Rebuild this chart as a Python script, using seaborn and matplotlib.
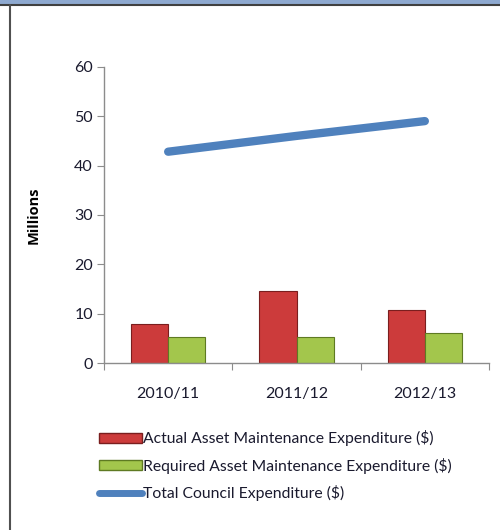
import pandas as pd
import matplotlib
matplotlib.use("Agg")
import matplotlib.pyplot as plt
import seaborn as sns
from matplotlib.patches import Patch, Rectangle
from matplotlib.lines import Line2D

years = ["2010/11", "2011/12", "2012/13"]
actual = [7.9, 14.5, 10.7]
required = [5.3, 5.3, 6.0]
total = [42.8, 46.0, 49.0]

series_names = ["Actual Asset Maintenance Expenditure ($)",
                "Required Asset Maintenance Expenditure ($)"]
line_name = "Total Council Expenditure ($)"

df = pd.DataFrame({
    "year": years * 2,
    "value": actual + required,
    "series": [series_names[0]] * 3 + [series_names[1]] * 3,
})

sns.set_style("white")
plt.rcParams["font.family"] = ["Lato", "DejaVu Sans"]
plt.rcParams["text.color"] = "#1A1A2E"
plt.rcParams["xtick.labelcolor"] = "#1A1A2E"
plt.rcParams["ytick.labelcolor"] = "#1A1A2E"

fig = plt.figure(figsize=(5, 5.3), dpi=100)
ax = fig.add_axes([0.208, 0.315, 0.77, 0.559])

red = "#CC3B3B"
green = "#A3C64C"
blue = "#4F81BD"

sns.barplot(data=df, x="year", y="value", hue="series", order=years,
            palette=[red, green], width=0.58, ax=ax, legend=False,
            saturation=1)
for i, bar in enumerate(ax.patches):
    bar.set_edgecolor("#7A1E1E" if i < 3 else "#5E7A22")
    bar.set_linewidth(0.8)

sns.pointplot(x=years, y=total, color=blue, markers="", linewidth=6,
              solid_capstyle="round", ax=ax, errorbar=None)

ax.set_ylim(0, 60)
ax.set_xlim(-0.5, 2.5)
ax.set_yticks(range(0, 61, 10))
ax.set_xticks([-0.5, 0.5, 1.5, 2.5])
ax.set_xticklabels([])
ax.set_xticks([0, 1, 2], minor=True)
ax.set_xticklabels(years, minor=True)
ax.tick_params(axis="x", which="minor", length=0, pad=17, labelsize=11.5)
ax.tick_params(axis="x", which="major", length=5, color="#8C8C8C", direction="out")
ax.tick_params(axis="y", length=5, color="#8C8C8C", direction="out",
               labelsize=11.5, pad=3)
ax.tick_params(bottom=True, left=True)
ax.set_xlabel("")
ax.set_ylabel("Millions", fontsize=10.5, fontweight="bold", labelpad=24,
              color="black", family=["Open Sans", "DejaVu Sans"])
for s in ["top", "right"]:
    ax.spines[s].set_visible(False)
for s in ["left", "bottom"]:
    ax.spines[s].set_color("#8C8C8C")
    ax.spines[s].set_linewidth(1)

handles = [
    Patch(facecolor=red, edgecolor="#7A1E1E"),
    Patch(facecolor=green, edgecolor="#5E7A22"),
    Line2D([0], [0], color=blue, lw=5, solid_capstyle="round"),
]
fig.legend(handles, series_names + [line_name], loc="upper left",
           bbox_to_anchor=(0.185, 0.2), frameon=False, fontsize=11.3,
           handlelength=2.75, handleheight=0.6, handletextpad=0.05,
           labelspacing=0.72, borderaxespad=0)

# window frame
fig.patches.append(Rectangle((0, 0.992), 1, 0.008, transform=fig.transFigure,
                             color="#8EA9D0", zorder=0))
fig.lines.append(Line2D([0, 1], [0.991, 0.991], transform=fig.transFigure,
                        color="#404040", lw=1.5))
fig.lines.append(Line2D([0.019, 0.019], [0, 0.991], transform=fig.transFigure,
                        color="#505050", lw=1.5))

fig.savefig("out.png", dpi=100)
